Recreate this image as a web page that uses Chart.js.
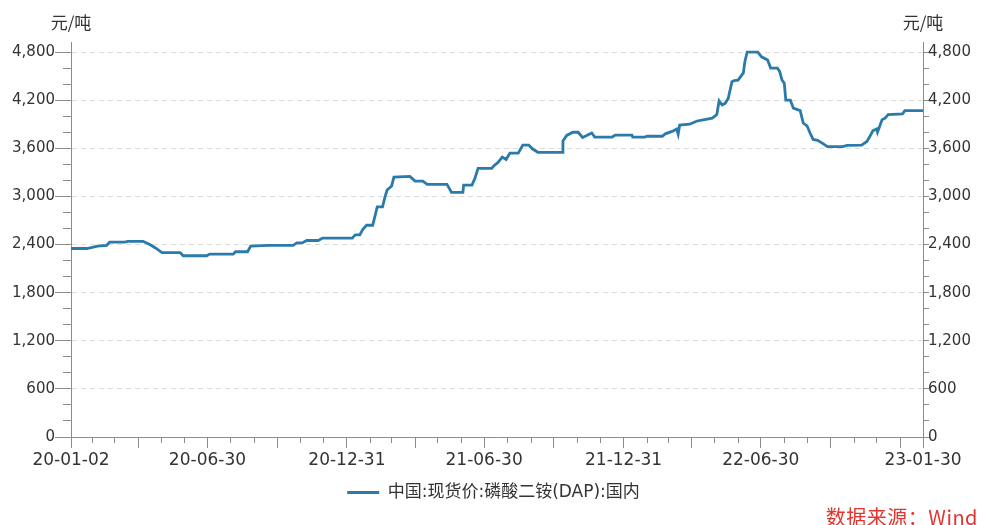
<!DOCTYPE html>
<html>
<head>
<meta charset="utf-8">
<script src="https://cdn.jsdelivr.net/npm/chart.js@4.4.0/dist/chart.umd.min.js"></script>
<style>
    body { margin: 0; background: #fff; overflow: hidden; }
    #wrap { position: relative; width: 987px; height: 525px; overflow: hidden; }
    .unit { position: absolute; top: 9px; width: 62px; line-height: 18px; text-align: center; font: 17px "Noto Sans CJK SC", sans-serif; color: #333; }
    #source { position: absolute; right: 9px; top: 502px; line-height: 21px; letter-spacing: 0.5px; font: 20px "Noto Sans CJK SC", sans-serif; color: #e3342f; }
</style>
</head>
<body>
<div id="wrap">
    <canvas id="priceChart" width="987" height="525"></canvas>
    <div class="unit" style="left:40px">元/吨</div>
    <div class="unit" style="left:892px">元/吨</div>
    <div id="source">数据来源：Wind</div>
</div>
<script>
// Series: China spot price, DAP (domestic), yuan/ton
const seriesName = '中国:现货价:磷酸二铵(DAP):国内';
const priceDates = [
    '2020-01-02', '2020-01-23', '2020-02-06', '2020-02-18', '2020-02-22', '2020-03-13', '2020-03-17', '2020-04-06',
    '2020-04-15', '2020-04-22', '2020-05-01', '2020-05-25', '2020-05-29', '2020-06-29', '2020-07-03', '2020-08-03',
    '2020-08-06', '2020-08-22', '2020-08-26', '2020-09-18', '2020-10-21', '2020-10-26', '2020-11-02', '2020-11-08',
    '2020-11-23', '2020-11-29', '2021-01-07', '2021-01-11', '2021-01-17', '2021-01-21', '2021-01-26', '2021-02-03',
    '2021-02-09', '2021-02-16', '2021-02-19', '2021-02-22', '2021-02-28', '2021-03-03', '2021-03-24', '2021-03-31',
    '2021-04-10', '2021-04-16', '2021-05-12', '2021-05-18', '2021-06-02', '2021-06-03', '2021-06-14', '2021-06-18',
    '2021-06-22', '2021-07-10', '2021-07-14', '2021-07-18', '2021-07-24', '2021-07-29', '2021-08-03', '2021-08-14',
    '2021-08-20', '2021-08-28', '2021-09-02', '2021-09-09', '2021-10-11', '2021-10-12', '2021-10-17', '2021-10-25',
    '2021-11-01', '2021-11-07', '2021-11-19', '2021-11-23', '2021-12-16', '2021-12-20', '2022-01-11', '2022-01-12',
    '2022-01-28', '2022-01-31', '2022-02-20', '2022-02-24', '2022-03-05', '2022-03-11', '2022-03-13', '2022-03-15',
    '2022-03-28', '2022-04-07', '2022-04-15', '2022-04-27', '2022-05-03', '2022-05-06', '2022-05-10', '2022-05-14',
    '2022-05-18', '2022-05-23', '2022-05-26', '2022-05-31', '2022-06-07', '2022-06-09', '2022-06-12', '2022-06-26',
    '2022-07-01', '2022-07-09', '2022-07-13', '2022-07-22', '2022-07-25', '2022-07-28', '2022-07-31', '2022-08-02',
    '2022-08-08', '2022-08-12', '2022-08-21', '2022-08-25', '2022-08-30', '2022-09-03', '2022-09-07', '2022-09-13',
    '2022-09-19', '2022-09-26', '2022-10-16', '2022-10-22', '2022-11-10', '2022-11-17', '2022-11-21', '2022-11-25',
    '2022-11-30', '2022-12-01', '2022-12-07', '2022-12-11', '2022-12-15', '2023-01-03', '2023-01-06', '2023-01-30'
];
const priceValues = [
    2350, 2350, 2380, 2390, 2430, 2430, 2440, 2440,
    2400, 2360, 2300, 2300, 2260, 2260, 2280, 2280,
    2310, 2310, 2380, 2390, 2390, 2420, 2420, 2450,
    2450, 2480, 2480, 2520, 2520, 2590, 2640, 2640,
    2870, 2870, 2985, 3080, 3130, 3240, 3250, 3190,
    3190, 3150, 3150, 3050, 3050, 3140, 3140, 3230,
    3350, 3350, 3390, 3420, 3490, 3460, 3540, 3540,
    3640, 3640, 3590, 3550, 3550, 3690, 3760, 3800,
    3800, 3735, 3790, 3740, 3740, 3765, 3765, 3740,
    3740, 3750, 3750, 3780, 3810, 3840, 3775, 3890,
    3900, 3940, 3955, 3975, 4020, 4190, 4140, 4160,
    4220, 4430, 4445, 4450, 4540, 4680, 4800, 4800,
    4740, 4700, 4600, 4600, 4555, 4450, 4410, 4200,
    4200, 4100, 4070, 3915, 3880, 3790, 3710, 3700,
    3665, 3620, 3620, 3635, 3640, 3685, 3750, 3820,
    3840, 3800, 3955, 3975, 4020, 4030, 4070, 4070
];
// x axis labels (every half year, plus the last day)
const labelDates = ['2020-01-02', '2020-06-30', '2020-12-31', '2021-06-30', '2021-12-31', '2022-06-30', '2023-01-30'];
// y axis labels, same on both sides
const yTickValues = [0, 600, 1200, 1800, 2400, 3000, 3600, 4200, 4800];
const yMax = 4925;

const startMs = Date.UTC(2020, 0, 2);
function dayOf(s) {
    var p = s.split('-').map(Number);
    return Math.round((Date.UTC(p[0], p[1] - 1, p[2]) - startMs) / 86400000);
}
const firstDay = dayOf(labelDates[0]);
const lastDay = dayOf(labelDates[labelDates.length - 1]);

// month-end ticks, quarter ends get the long tick
var monthEnds = [], quarterEnds = [];
for (var y = 2020; y <= 2022; y++) {
    for (var m = 1; m <= 12; m++) {
        var d = new Date(Date.UTC(y, m, 0)).toISOString().slice(0, 10);
        monthEnds.push(dayOf(d));
        if (m % 3 === 0) quarterEnds.push(dayOf(d));
    }
}
monthEnds.push(lastDay);
const majorDays = [firstDay].concat(quarterEnds, [lastDay]);
const labelDays = labelDates.map(dayOf);

// minor y ticks: three per labelled step
var yMinorValues = [];
for (var v = 0; v <= yTickValues[yTickValues.length - 1]; v += 200) yMinorValues.push(v);

function fmtDay(v) {
    var dt = new Date(startMs + v * 86400000);
    return dt.toISOString().slice(2, 10);
}

const points = priceDates.map((d, i) => ({ x: dayOf(d), y: priceValues[i] }));
const axisGray = '#8c8c8c';
const tickFont = { family: 'DejaVu Sans', size: 15 };

new Chart(document.getElementById('priceChart'), {
    type: 'line',
    data: {
        datasets: [{
            label: seriesName,
            data: points,
            borderColor: '#2a7aaa',
            backgroundColor: '#2a7aaa',
            borderWidth: 2.8,
            pointRadius: 0,
            tension: 0,
            xAxisID: 'x',
            yAxisID: 'y'
        }]
    },
    options: {
        responsive: false,
        animation: false,
        layout: { padding: { top: 42, left: 0, right: 0, bottom: 14 } },
        plugins: {
            tooltip: { enabled: false },
            legend: {
                position: 'bottom',
                labels: {
                    usePointStyle: true,
                    pointStyle: 'line',
                    pointStyleWidth: 32,
                    color: '#333',
                    font: { family: "'DejaVu Sans', 'Noto Sans CJK SC'", size: 17 }
                }
            }
        },
        scales: {
            x: {
                type: 'linear',
                position: 'bottom',
                min: firstDay,
                max: lastDay,
                afterBuildTicks: (scale) => { scale.ticks = majorDays.map(v => ({ value: v })); },
                afterFit: (scale) => { scale.height = 37; },
                ticks: {
                    autoSkip: false,
                    maxRotation: 0,
                    padding: 2,
                    color: '#333',
                    font: { family: 'DejaVu Sans', size: 17 },
                    callback: (v) => labelDays.indexOf(v) >= 0 ? fmtDay(v) : ''
                },
                grid: { drawOnChartArea: false, tickLength: 11, tickColor: axisGray },
                border: { color: axisGray }
            },
            xMinor: {
                type: 'linear',
                axis: 'x',
                position: { y: 0 },
                min: firstDay,
                max: lastDay,
                afterBuildTicks: (scale) => { scale.ticks = monthEnds.map(v => ({ value: v })); },
                ticks: { display: false },
                grid: { drawOnChartArea: false, tickLength: 6, tickColor: axisGray },
                border: { display: false }
            },
            y: {
                type: 'linear',
                position: 'left',
                min: 0,
                max: yMax,
                afterBuildTicks: (scale) => { scale.ticks = yTickValues.map(v => ({ value: v })); },
                afterFit: (scale) => { scale.width = 71; },
                ticks: { autoSkip: false, padding: 0, color: '#333', font: tickFont },
                grid: {
                    tickLength: 16,
                    tickColor: axisGray,
                    color: (ctx) => ctx.tick && ctx.tick.value === 0 ? 'rgba(0,0,0,0)' : '#dcdcdc'
                },
                border: { color: axisGray, dash: [5, 4] }
            },
            yMinor: {
                type: 'linear',
                axis: 'y',
                position: { x: firstDay },
                min: 0,
                max: yMax,
                afterBuildTicks: (scale) => { scale.ticks = yMinorValues.map(v => ({ value: v })); },
                ticks: { display: false },
                grid: { drawOnChartArea: false, tickLength: 8, tickColor: axisGray },
                border: { display: false }
            },
            y2: {
                type: 'linear',
                position: 'right',
                min: 0,
                max: yMax,
                afterBuildTicks: (scale) => { scale.ticks = yMinorValues.map(v => ({ value: v })); },
                afterFit: (scale) => { scale.width = 64; },
                ticks: {
                    autoSkip: false,
                    padding: -1,
                    color: '#333',
                    font: tickFont,
                    callback: (v) => yTickValues.indexOf(v) >= 0 ? v.toLocaleString('en-US') : ''
                },
                grid: { drawOnChartArea: false, tickLength: 6, tickColor: axisGray },
                border: { color: axisGray }
            }
        }
    }
});
</script>
</body>
</html>
